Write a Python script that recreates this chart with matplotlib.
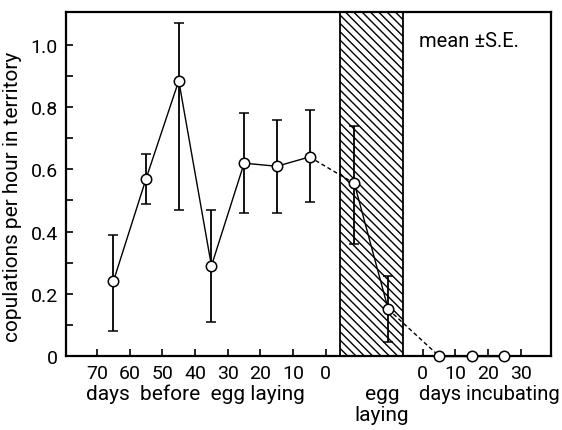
import matplotlib
matplotlib.use("Agg")
import matplotlib.pyplot as plt
import numpy as np

plt.rcParams['font.family'] = ['Roboto', 'DejaVu Sans']
plt.rcParams['hatch.linewidth'] = 1.0

# days before egg laying
before_days = [65, 55, 45, 35, 25, 15, 5]
before_mean = [0.24, 0.57, 0.885, 0.29, 0.62, 0.61, 0.64]
before_lo = [0.08, 0.49, 0.47, 0.11, 0.46, 0.46, 0.495]
before_hi = [0.39, 0.65, 1.07, 0.47, 0.78, 0.76, 0.79]

# egg laying period (two samples)
laying_pos = [0.23, 0.77]   # fraction through the laying period
laying_mean = [0.555, 0.15]
laying_lo = [0.36, 0.045]
laying_hi = [0.74, 0.257]

# days incubating
incub_days = [5, 15, 25]
incub_mean = [0.0, 0.0, 0.0]

before_ticks = [70, 60, 50, 40, 30, 20, 10, 0]
incub_ticks = [0, 10, 20, 30]

# layout of the broken axis (in day units)
lay_start, lay_end = 4.3, 23.5
incub_off = 29.6

xb = -np.array(before_days)
xl = lay_start + np.array(laying_pos) * (lay_end - lay_start)
xi = incub_off + np.array(incub_days)

fig = plt.figure(figsize=(5.62, 4.31), dpi=100)
ax = fig.add_axes([0.1174, 0.1717, 0.8626, 0.7981])

ax.axvspan(lay_start, lay_end, facecolor='white', edgecolor='black', hatch='\\\\\\\\', lw=1.3, zorder=1)

mk = dict(marker='o', ms=7.5, mfc='white', mec='black', mew=1.1)

bm = np.array(before_mean)
ax.errorbar(xb, bm, yerr=[bm - np.array(before_lo), np.array(before_hi) - bm],
            fmt='-', color='black', lw=1.0, elinewidth=1.3, capsize=3.5, capthick=1.3,
            zorder=3, **mk)
lm = np.array(laying_mean)
ax.errorbar(xl, lm, yerr=[lm - np.array(laying_lo), np.array(laying_hi) - lm],
            fmt='-', color='black', lw=1.0, elinewidth=1.3, capsize=3.5, capthick=1.3,
            zorder=3, **mk)

# dashed links across the laying period
ax.plot([xb[-1], xl[0]], [bm[-1], lm[0]], ls=(0, (3, 2)), color='black', lw=1.0, zorder=2)
ax.plot([xl[-1], xi[0]], [lm[-1], incub_mean[0]], ls=(0, (3, 2)), color='black', lw=1.0,
        zorder=2, clip_on=False)
ax.plot(xi, incub_mean, '-', color='black', lw=1.0, zorder=4, clip_on=False, **mk)

ax.set_xlim(-79.5, 68.8)
ax.set_ylim(0, 1.106)

ax.set_xticks(list(-np.array(before_ticks)) + list(incub_off + np.array(incub_ticks)))
ax.set_xticklabels([str(t) for t in before_ticks] + [str(t) for t in incub_ticks])
ax.set_yticks(np.arange(0, 1.01, 0.1))
ax.set_yticklabels(['0', '', '0.2', '', '0.4', '', '0.6', '', '0.8', '', '1.0'])
ax.tick_params(direction='in', length=5, width=1.2, labelsize=14, pad=6)

for s in ax.spines.values():
    s.set_linewidth(1.6)

ax.set_ylabel('copulations per hour in territory', fontsize=15, labelpad=4)
ax.yaxis.set_label_coords(-0.09, 0.465)

ax.text(0.728, 0.9, 'mean ±S.E.', transform=ax.transAxes, fontsize=14.5)

fig.text(0.153, 0.072, 'days  before  egg laying', fontsize=15)
fig.text(0.68, 0.072, 'egg', fontsize=15, ha='center')
fig.text(0.68, 0.024, 'laying', fontsize=15, ha='center')
fig.text(0.745, 0.072, 'days incubating', fontsize=14.5)

fig.savefig('out.png', dpi=100)
